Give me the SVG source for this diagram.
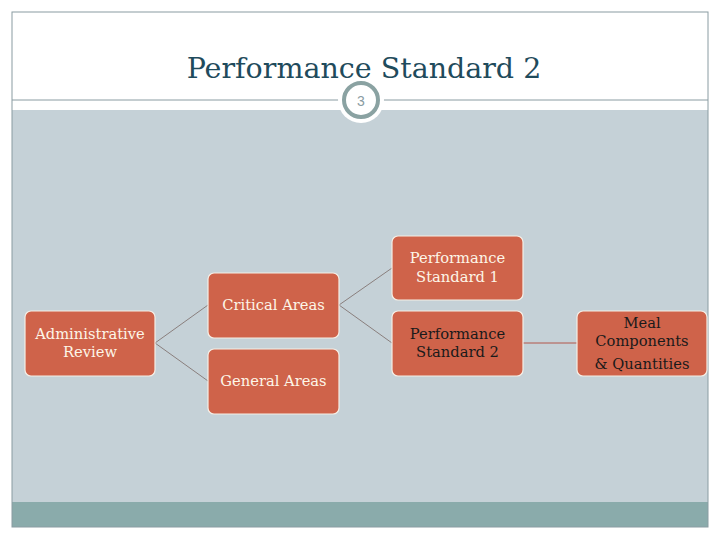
<svg xmlns="http://www.w3.org/2000/svg" width="720" height="540" viewBox="0 0 720 540">
<style>
.node rect{fill:#cf634a;stroke:#f6efe6;stroke-width:1.2}
.lbl{font-family:"DejaVu Serif","Liberation Serif",serif;font-size:14.7px;text-anchor:middle;fill:#fdf6e8}
.dark{fill:#1a1a1a}
.conn{stroke:#7a6a66;stroke-width:0.8;fill:none}
</style>
<rect x="0" y="0" width="720" height="540" fill="#ffffff"/>
<rect x="12" y="110" width="696" height="392" fill="#c5d1d7"/>
<rect x="12" y="502" width="696" height="25" fill="#8aabab"/>
<rect x="12" y="12" width="696" height="515" fill="none" stroke="#8a9ca2" stroke-width="1"/>
<line x1="12" y1="100" x2="708" y2="100" stroke="#8a9ca2" stroke-width="1"/>
<circle cx="361" cy="100" r="23" fill="#ffffff"/>
<circle cx="361" cy="100" r="17" fill="#ffffff" stroke="#8aa2a2" stroke-width="4"/>
<text x="361" y="106" font-family="Liberation Sans, sans-serif" font-size="14" fill="#8a9ca2" text-anchor="middle">3</text>
<text x="364" y="78" font-family="DejaVu Serif, Liberation Serif, serif" font-size="28.5" fill="#1f4b5c" text-anchor="middle">Performance Standard 2</text>
<g id="connectors">
<line class="conn" x1="155" y1="343" x2="208" y2="305"/>
<line class="conn" x1="155" y1="343" x2="208" y2="381"/>
<line class="conn" x1="339" y1="305" x2="392" y2="268"/>
<line class="conn" x1="339" y1="305" x2="392" y2="343"/>
<line x1="523" y1="343" x2="577" y2="343" stroke="#b3574a" stroke-width="1"/>
</g>
<g id="admin" class="node"><rect x="25" y="311" width="130" height="65" rx="6"/><text class="lbl" x="90" y="339">Administrative</text><text class="lbl" x="90" y="357">Review</text></g>
<g id="critical" class="node"><rect x="208" y="273" width="131" height="65" rx="6"/><text class="lbl" x="273.5" y="310">Critical Areas</text></g>
<g id="general" class="node"><rect x="208" y="349" width="131" height="65" rx="6"/><text class="lbl" x="273.5" y="386">General Areas</text></g>
<g id="ps1" class="node"><rect x="392" y="236" width="131" height="64" rx="6"/><text class="lbl" x="457.5" y="263">Performance</text><text class="lbl" x="457.5" y="282">Standard 1</text></g>
<g id="ps2" class="node"><rect x="392" y="311" width="131" height="65" rx="6"/><text class="lbl dark" x="457.5" y="339">Performance</text><text class="lbl dark" x="457.5" y="357">Standard 2</text></g>
<g id="meal" class="node"><rect x="577" y="311" width="130" height="65" rx="6"/><text class="lbl dark" x="642" y="328">Meal</text><text class="lbl dark" x="642" y="346">Components</text><text class="lbl dark" x="642" y="369">&amp; Quantities</text></g>
</svg>
